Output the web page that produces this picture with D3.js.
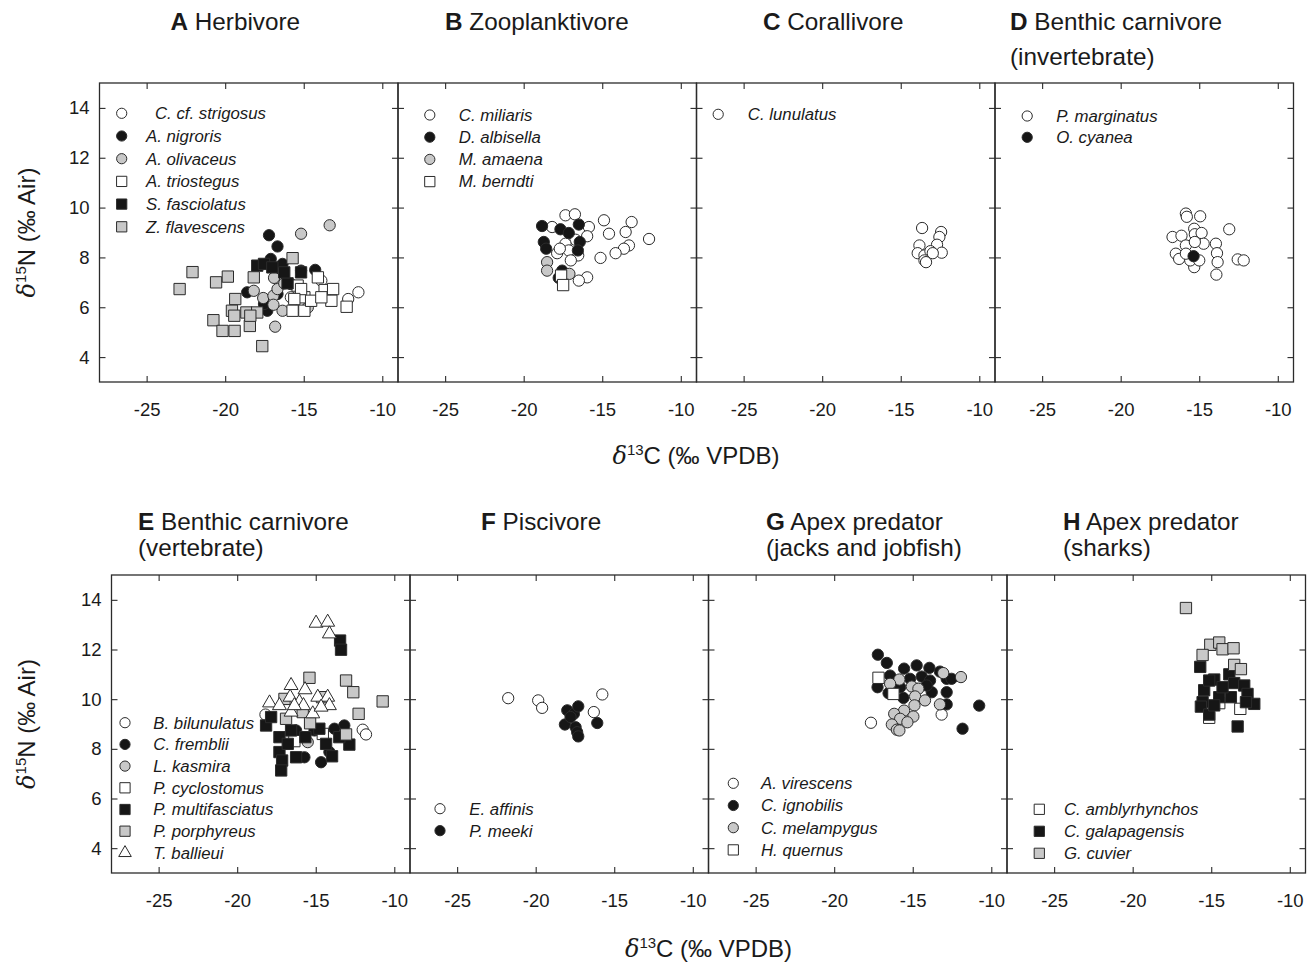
<!DOCTYPE html>
<html><head><meta charset="utf-8">
<script src="https://cdn.jsdelivr.net/npm/d3@7"></script>
<style>
body{margin:0;background:#fff}
svg{display:block}
text{font-family:"Liberation Sans",Arial,Helvetica,sans-serif;fill:#1a1a1a}
</style>
</head><body>
<svg id="chart" width="1311" height="964"></svg>
<script>
// ---------------- DATA ----------------
const xTickValues = [-25, -20, -15, -10];
const yTickValues = [4, 6, 8, 10, 12, 14];
const xDomain = [-28, -9];
const yDomain = [3, 15];

const panelLetters = ["A", "B", "C", "D", "E", "F", "G", "H"];
const panelTitleLine1 = ["Herbivore", "Zooplanktivore", "Corallivore", "Benthic carnivore",
  "Benthic carnivore", "Piscivore", "Apex predator", "Apex predator"];
const panelTitleLine2 = ["", "", "", "(invertebrate)", "(vertebrate)", "", "(jacks and jobfish)", "(sharks)"];

// Panel A – Herbivore
const speciesA = ["C. cf. strigosus", "A. nigroris", "A. olivaceus", "A. triostegus", "S. fasciolatus", "Z. flavescens"];
const A_cStrigosus = [[-11.52,6.6],[-12.17,6.33],[-13.88,7.07],[-15.17,5.99],[-15.82,6.4]];
const A_aNigroris = [[-17.21,8.89],[-16.67,8.44],[-17.1,7.94],[-16.35,7.74],[-14.27,7.5],[-15.17,7.47],[-18.6,6.6],[-17.32,5.86],[-17.53,6.13],[-16.67,6.53],[-15.82,6.93]];
const A_aOlivaceus = [[-15.17,8.95],[-13.35,9.29],[-18.18,6.66],[-17.58,6.37],[-16.93,6.46],[-16.89,7.18],[-16.67,6.73],[-16.35,5.86],[-16.82,5.22],[-16.24,6.96],[-16.93,6.1],[-14.74,5.99]];
const A_aTriostegus = [[-15.39,6.87],[-14.96,6.4],[-14.1,7.2],[-13.67,6.69],[-13.13,6.73],[-15.71,5.86],[-14.96,5.86],[-14.53,6.26],[-12.27,6.02],[-13.24,6.26],[-15.17,6.73],[-13.88,6.4],[-15.6,6.33]];
const A_sFasciolatus = [[-17.96,7.67],[-17.53,7.74],[-17.0,7.6],[-16.03,6.96],[-15.17,7.4],[-16.24,7.4]];
const A_zFlavescens = [[-22.9,6.73],[-22.08,7.41],[-20.58,7.0],[-19.83,7.23],[-18.18,7.2],[-19.36,6.33],[-19.57,5.86],[-19.42,5.66],[-18.65,5.79],[-17.96,5.79],[-20.75,5.48],[-20.17,5.05],[-19.4,5.05],[-18.43,5.25],[-17.64,4.44],[-15.71,7.97],[-18.4,5.66]];

// Panel B – Zooplanktivore
const speciesB = ["C. miliaris", "D. albisella", "M. amaena", "M. berndti"];
const B_cMiliaris = [[-17.34,9.69],[-16.74,9.73],[-14.89,9.49],[-13.13,9.42],[-13.51,9.02],[-14.57,8.95],[-12.02,8.74],[-13.3,8.48],[-13.62,8.35],[-14.15,8.17],[-15.11,7.98],[-15.85,9.22],[-15.96,8.85],[-16.53,8.08],[-17.87,8.17],[-18.19,9.22],[-16.7,8.71],[-17.34,8.55],[-17.13,8.28],[-15.96,7.2],[-16.49,7.07],[-17.7,8.35],[-17.0,7.88]];
const B_dAlbisella = [[-18.83,9.26],[-17.66,9.13],[-17.13,8.98],[-16.49,9.32],[-18.72,8.62],[-18.57,8.35],[-16.43,8.62],[-16.55,8.28],[-17.77,7.18],[-17.55,7.47]];
const B_mAmaena = [[-18.51,7.81],[-18.51,7.47],[-17.09,7.34]];
const B_mBerndti = [[-17.62,7.27],[-17.49,6.89]];

// Panel C – Corallivore
const speciesC = ["C. lunulatus"];
const C_cLunulatus = [[-13.64,9.18],[-12.43,9.02],[-12.54,8.82],[-12.69,8.51],[-13.81,8.48],[-13.92,8.17],[-13.49,8.08],[-13.11,8.25],[-12.39,8.19],[-13.49,7.88],[-13.39,7.81],[-12.96,8.17]];

// Panel D – Benthic carnivore (invertebrate)
const speciesD = ["P. marginatus", "O. cyanea"];
const D_pMarginatus = [[-15.85,9.76],[-15.79,9.63],[-14.94,9.65],[-16.7,8.82],[-16.13,8.87],[-15.32,9.15],[-15.28,8.93],[-14.85,8.98],[-14.72,8.55],[-13.94,8.55],[-13.87,8.17],[-13.83,7.81],[-13.09,9.13],[-12.55,7.92],[-12.17,7.88],[-13.91,7.31],[-15.32,7.61],[-16.49,8.15],[-16.28,7.94],[-15.85,8.48],[-15.57,7.88],[-15.0,7.88],[-15.28,8.62],[-15.85,8.15]];
const D_oCyanea = [[-15.36,8.05]];

// Panel E – Benthic carnivore (vertebrate)
const speciesE = ["B. bilunulatus", "C. fremblii", "L. kasmira", "P. cyclostomus", "P. multifasciatus", "P. porphyreus", "T. ballieui"];
const E_bBilunulatus = [[-12.01,8.77],[-11.8,8.58],[-18.2,9.38]];
const E_cFremblii = [[-13.18,8.94],[-15.72,7.66],[-14.66,7.46],[-14.13,7.87],[-13.81,8.81],[-15.08,8.74],[-16.25,8.74]];
const E_lKasmira = [[-15.72,8.47],[-15.51,8.27]];
const E_pCyclostomus = [[-16.36,8.31],[-14.55,8.6]];
const E_pMultifasciatus = [[-13.45,12.36],[-13.39,11.99],[-18.16,8.94],[-17.84,9.28],[-17.31,8.47],[-17.31,7.87],[-17.14,7.53],[-17.2,7.13],[-16.57,8.74],[-16.78,8.2],[-13.96,7.7],[-12.86,8.17],[-13.5,8.47],[-15.66,8.47],[-14.77,8.81],[-16.25,7.66],[-14.34,8.2]];
const E_pPorphyreus = [[-15.4,10.86],[-13.07,10.75],[-12.61,10.28],[-10.74,9.91],[-12.27,9.41],[-13.07,8.58],[-16.99,10.01],[-15.83,9.48],[-14.6,10.08],[-16.89,9.21],[-15.36,9.03]];
const E_tBallieui = [[-14.98,13.06],[-14.24,13.1],[-14.13,12.63],[-16.57,10.55],[-15.68,10.38],[-17.94,9.85],[-17.31,9.74],[-16.63,10.08],[-16.04,9.88],[-14.87,10.08],[-14.24,10.08],[-14.13,9.74],[-16.57,9.48],[-15.19,9.41],[-14.66,9.68],[-15.78,9.74],[-16.36,9.74]];

// Panel F – Piscivore
const speciesF = ["E. affinis", "P. meeki"];
const F_eAffinis = [[-21.75,10.04],[-19.84,9.95],[-19.59,9.65],[-16.3,9.48],[-15.76,10.19]];
const F_pMeeki = [[-17.99,9.55],[-17.57,9.41],[-17.29,9.71],[-18.14,8.98],[-17.46,8.87],[-17.36,8.67],[-17.29,8.5],[-16.08,9.04],[-17.78,9.28]];

// Panel G – Apex predator (jacks and jobfish)
const speciesG = ["A. virescens", "C. ignobilis", "C. melampygus", "H. quernus"];
const G_aVirescens = [[-17.66,9.05],[-13.16,9.38]];
const G_cIgnobilis = [[-17.22,11.79],[-16.65,11.46],[-15.55,11.23],[-14.75,11.36],[-13.94,11.26],[-16.44,10.95],[-13.27,11.11],[-14.43,10.91],[-13.9,10.75],[-12.84,10.82],[-12.53,10.82],[-17.24,10.48],[-16.54,10.24],[-15.59,10.05],[-14.75,10.42],[-13.79,10.28],[-12.84,10.28],[-12.84,9.79],[-10.77,9.74],[-11.83,8.81],[-15.17,10.82],[-15.8,10.48],[-14.11,10.55]];
const G_cMelampygus = [[-13.06,11.05],[-11.93,10.89],[-15.85,10.79],[-16.44,10.62],[-15.06,10.51],[-14.64,10.42],[-14.85,10.11],[-14.22,9.95],[-13.27,9.79],[-14.89,9.75],[-15.55,9.54],[-16.18,9.41],[-14.96,9.3],[-15.8,9.21],[-15.34,9.07],[-16.33,8.98],[-16.01,8.77],[-15.85,8.74]];
const G_hQuernus = [[-17.18,10.86],[-16.23,10.21]];

// Panel H – Apex predator (sharks)
const speciesH = ["C. amblyrhynchos", "C. galapagensis", "G. cuvier"];
const H_cAmblyrhynchos = [[-13.15,9.61],[-15.13,9.25],[-14.49,9.84]];
const H_cGalapagensis = [[-15.7,11.3],[-14.81,10.79],[-13.85,11.0],[-13.54,10.65],[-15.45,10.36],[-12.9,10.55],[-12.69,10.21],[-15.55,9.88],[-14.49,10.08],[-13.75,10.08],[-15.66,9.7],[-15.13,9.38],[-13.32,8.9],[-12.26,9.81],[-12.79,9.88],[-14.81,9.75],[-14.28,10.48],[-15.13,10.75]];
const H_gCuvier = [[-16.61,13.67],[-15.06,12.19],[-14.49,12.28],[-14.28,12.01],[-13.58,12.05],[-15.55,11.78],[-13.54,11.38],[-13.11,11.21]];

// ---------------- STYLE / LAYOUT ----------------
const markerStyles = {
  oW: {shape: d3.symbolCircle, fill: "#ffffff", size: 100},
  oB: {shape: d3.symbolCircle, fill: "#161616", size: 100},
  oG: {shape: d3.symbolCircle, fill: "#c8c8c8", size: 100},
  sW: {shape: d3.symbolSquare, fill: "#ffffff", size: 128},
  sB: {shape: d3.symbolSquare, fill: "#161616", size: 128},
  sG: {shape: d3.symbolSquare, fill: "#c8c8c8", size: 128},
  tW: {shape: d3.symbolTriangle, fill: "#ffffff", size: 84}
};

const panels = [
  {species: speciesA, series: [A_cStrigosus, A_aNigroris, A_aOlivaceus, A_aTriostegus, A_sFasciolatus, A_zFlavescens], styles: ["oW","oB","oG","sW","sB","sG"]},
  {species: speciesB, series: [B_cMiliaris, B_dAlbisella, B_mAmaena, B_mBerndti], styles: ["oW","oB","oG","sW"]},
  {species: speciesC, series: [C_cLunulatus], styles: ["oW"]},
  {species: speciesD, series: [D_pMarginatus, D_oCyanea], styles: ["oW","oB"]},
  {species: speciesE, series: [E_bBilunulatus, E_cFremblii, E_lKasmira, E_pCyclostomus, E_pMultifasciatus, E_pPorphyreus, E_tBallieui], styles: ["oW","oB","oG","sW","sB","sG","tW"]},
  {species: speciesF, series: [F_eAffinis, F_pMeeki], styles: ["oW","oB"]},
  {species: speciesG, series: [G_aVirescens, G_cIgnobilis, G_cMelampygus, G_hQuernus], styles: ["oW","oB","oG","sW"]},
  {species: speciesH, series: [H_cAmblyrhynchos, H_cGalapagensis, H_gCuvier], styles: ["sW","sB","sG"]}
];

const panelW = 298.5;
const rowLayout = [
  {left: 99.5, top: 83, height: 299, title1: 30, title2: 65, tickLabelPad: 21, xTitleY: 464, xTitleX: 696, yTitleY: 232.5},
  {left: 111.5, top: 575, height: 298, title1: 530, title2: 556, tickLabelPad: 21, xTitleY: 957, xTitleX: 708.5, yTitleY: 724}
];
const titleX = [170.5, 445, 763, 1010, 138, 481, 766, 1063];
const legendLayout = [
  {sym: 22.2, txt: 46.5, y0: 30.3, step: 22.7, indent: [9, 0, 0, 0, 0, 0]},
  {sym: 31.8, txt: 60.8, y0: 32, step: 22.2},
  {sym: 21.7, txt: 51.3, y0: 31.3, step: 22},
  {sym: 32.2, txt: 61.2, y0: 33, step: 21.3},
  {sym: 13.5, txt: 41.8, y0: 147.7, step: 21.7},
  {sym: 30, txt: 59.3, y0: 233.7, step: 22},
  {sym: 24.8, txt: 52.5, y0: 208.3, step: 22.2},
  {sym: 32.3, txt: 57, y0: 234.3, step: 22}
];

const svg = d3.select("#chart");
const strokeCol = "#2b2b2b";
const fmt = d => String(d);

panels.forEach((p, i) => {
  const row = i < 4 ? 0 : 1;
  const col = i % 4;
  const R = rowLayout[row];
  const left = R.left + col * panelW;
  const top = R.top;
  const h = R.height;
  const x = d3.scaleLinear().domain(xDomain).range([0, panelW]);
  const y = d3.scaleLinear().domain(yDomain).range([h, 0]);
  const g = svg.append("g").attr("transform", `translate(${left},${top})`);

  // axes with inward ticks
  const ax = [
    {a: d3.axisBottom(x).tickValues(xTickValues).tickSize(-6).tickPadding(R.tickLabelPad).tickFormat(fmt), t: `translate(0,${h})`, labels: true},
    {a: d3.axisTop(x).tickValues(xTickValues).tickSize(-6).tickFormat(""), t: "", labels: false},
    {a: d3.axisLeft(y).tickValues(yTickValues).tickSize(-6).tickPadding(10).tickFormat(fmt), t: "", labels: col === 0},
    {a: d3.axisRight(y).tickValues(yTickValues).tickSize(-6).tickFormat(""), t: `translate(${panelW},0)`, labels: false}
  ];
  ax.forEach(d => {
    const ag = g.append("g").attr("transform", d.t).call(d.a);
    ag.select(".domain").remove();
    ag.selectAll(".tick line").attr("stroke", strokeCol).attr("stroke-width", 1.1);
    ag.selectAll(".tick text").attr("font-size", 18.5).attr("fill", "#1a1a1a")
      .attr("font-family", '"Liberation Sans",Arial,Helvetica,sans-serif');
    if (!d.labels) ag.selectAll(".tick text").remove();
  });

  // data
  p.series.forEach((pts, k) => {
    const st = markerStyles[p.styles[k]];
    const sym = d3.symbol().type(st.shape).size(st.size);
    g.append("g").selectAll("path").data(pts).join("path")
      .attr("d", sym)
      .attr("transform", d => `translate(${x(d[0])},${y(d[1])})`)
      .attr("fill", st.fill).attr("stroke", strokeCol).attr("stroke-width", 1);
  });

  // frame
  g.append("rect").attr("x", 0).attr("y", 0).attr("width", panelW).attr("height", h)
    .attr("fill", "none").attr("stroke", strokeCol).attr("stroke-width", 1.3);

  // legend
  const L = legendLayout[i];
  p.species.forEach((name, k) => {
    const st = markerStyles[p.styles[k]];
    const cy = L.y0 + k * L.step;
    g.append("path").attr("d", d3.symbol().type(st.shape).size(st.size * 0.82)())
      .attr("transform", `translate(${L.sym},${cy})`)
      .attr("fill", st.fill).attr("stroke", strokeCol).attr("stroke-width", 1);
    g.append("text").attr("x", L.txt + (L.indent ? L.indent[k] : 0)).attr("y", cy + 5.8)
      .attr("font-size", 16.8).attr("font-style", "italic").text(name);
  });

  // title
  const tx = titleX[i];
  const t1 = svg.append("text").attr("x", tx).attr("y", R.title1).attr("font-size", 24.3);
  t1.append("tspan").attr("font-weight", "bold").text(panelLetters[i]);
  t1.append("tspan").text(" " + panelTitleLine1[i]);
  if (panelTitleLine2[i]) {
    svg.append("text").attr("x", tx).attr("y", R.title2).attr("font-size", 24.3).text(panelTitleLine2[i]);
  }
});

// axis titles
rowLayout.forEach(R => {
  const xt = svg.append("text").attr("x", R.xTitleX).attr("y", R.xTitleY)
    .attr("text-anchor", "middle").attr("font-size", 24);
  xt.append("tspan").attr("font-style", "italic").attr("font-family", '"DejaVu Serif","Liberation Serif",serif').text("δ");
  xt.append("tspan").attr("font-size", 15).attr("dy", -9).text("13");
  xt.append("tspan").attr("dy", 9).text("C (‰ VPDB)");

  const yt = svg.append("text").attr("transform", `translate(35,${R.yTitleY}) rotate(-90)`)
    .attr("text-anchor", "middle").attr("font-size", 24);
  yt.append("tspan").attr("font-style", "italic").attr("font-family", '"DejaVu Serif","Liberation Serif",serif').text("δ");
  yt.append("tspan").attr("font-size", 15).attr("dy", -9).text("15");
  yt.append("tspan").attr("dy", 9).text("N (‰ Air)");
});
</script>
</body></html>
